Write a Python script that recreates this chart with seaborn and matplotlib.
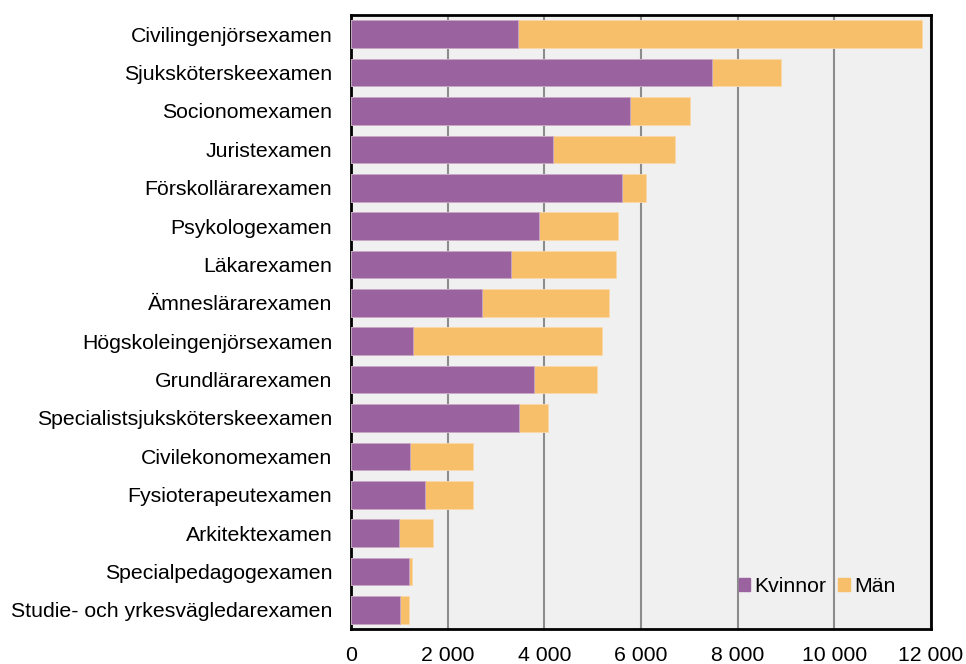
import matplotlib
matplotlib.use("Agg")
import matplotlib.pyplot as plt
import matplotlib.ticker as mticker
from matplotlib.patches import Patch
import pandas as pd
import seaborn as sns

examen = ['Civilingenjörsexamen', 'Sjuksköterskeexamen', 'Socionomexamen', 'Juristexamen',
          'Förskollärarexamen', 'Psykologexamen', 'Läkarexamen', 'Ämneslärarexamen',
          'Högskoleingenjörsexamen', 'Grundlärarexamen', 'Specialistsjuksköterskeexamen',
          'Civilekonomexamen', 'Fysioterapeutexamen', 'Arkitektexamen',
          'Specialpedagogexamen', 'Studie- och yrkesvägledarexamen']
kvinnor = [3450, 7470, 5780, 4170, 5610, 3880, 3300, 2715, 1275, 3795, 3485, 1215, 1540, 990, 1195, 1005]
man = [8370, 1420, 1240, 2540, 495, 1650, 2190, 2625, 3920, 1290, 585, 1310, 975, 705, 75, 200]

purple = '#9a63a0'
orange = '#f8bf6a'

df = pd.DataFrame({'examen': examen, 'kvinnor': kvinnor, 'man': man})
df['total'] = df['kvinnor'] + df['man']

sns.set_style('white')
plt.rcParams['font.family'] = ['Liberation Sans', 'DejaVu Sans']
plt.rcParams['text.color'] = 'black'
fs = 15.35

fig = plt.figure(figsize=(9.66, 6.64), dpi=100)
ax = fig.add_axes([0.3634, 0.0527, 0.6004, 0.9247])
ax.set_facecolor('#f0f0f0')

# totals first (orange), women on top (purple) -> stacked look
sns.barplot(data=df, y='examen', x='total', color=orange, width=0.72, saturation=1,
            edgecolor='#f9d9a8', linewidth=0.6, ax=ax, zorder=3)
sns.barplot(data=df, y='examen', x='kvinnor', color=purple, width=0.72, saturation=1,
            edgecolor='#c7a9cb', linewidth=0.6, ax=ax, zorder=4)

ax.set_xlim(0, 12000)
ax.set_ylim(len(examen) - 0.5, -0.5)
ax.xaxis.set_major_locator(mticker.MultipleLocator(2000))
ax.xaxis.set_major_formatter(mticker.FuncFormatter(lambda v, p: f'{int(v):,}'.replace(',', ' ')))
ax.grid(axis='x', color='#8c8c8c', linewidth=1.5, zorder=0)
ax.set_axisbelow(True)
ax.set_xlabel('')
ax.set_ylabel('')
ax.tick_params(axis='x', length=4.5, width=1.2, color='black', labelsize=fs, labelcolor='black', pad=8)
ax.tick_params(axis='y', length=0, labelsize=fs, labelcolor='black', pad=13.5)
for s in ax.spines.values():
    s.set_color('black')
    s.set_linewidth(2)

handles = [Patch(color=purple, label='Kvinnor'), Patch(color=orange, label='Män')]
ax.legend(handles=handles, loc='lower right', bbox_to_anchor=(0.972, 0.022), ncol=2, frameon=False,
          fontsize=fs, handlelength=0.55, handleheight=0.55, handletextpad=0.2, columnspacing=0.55)

fig.savefig('out.png', dpi=100)
